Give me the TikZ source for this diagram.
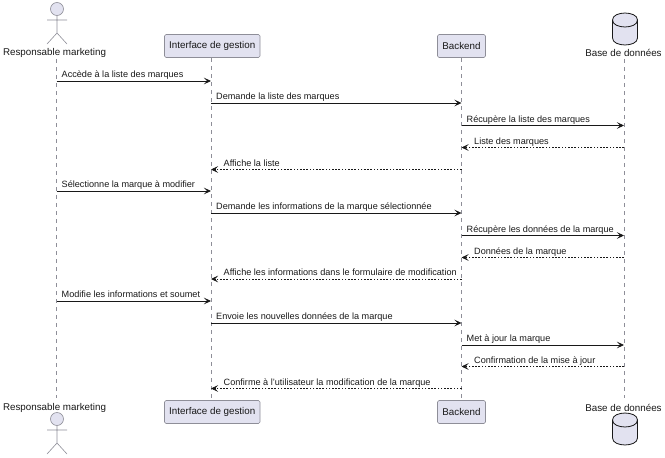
\documentclass[tikz,border=0pt]{standalone}
\usepackage{fontspec}
\setmainfont{Liberation Sans}
\usetikzlibrary{arrows.meta,calc}
\definecolor{pfill}{HTML}{E2E2F0}
\definecolor{pline}{HTML}{8E8E98}
\definecolor{ink}{HTML}{181818}
\tikzset{
  px/.style={x=1pt,y=-1pt},
  txt/.style={font=\fontsize{9.8}{12}\selectfont,text=ink,inner sep=0pt},
  plabel/.style={txt,anchor=center},
  pbox/.style={txt,draw=pline,fill=pfill,rounded corners=1.5pt,line width=.6pt,minimum height=23pt,anchor=center},
  lifeline/.style={draw=pline,line width=.6pt,dash pattern=on 4pt off 4pt},
  actorline/.style={draw=pline,line width=.6pt,fill=pfill},
  dbline/.style={draw=ink,line width=.8pt,fill=pfill},
  solidmsg/.style={draw=ink,line width=.7pt,-{Stealth[length=7pt,width=6.5pt,inset=3pt]}},
  dashmsg/.style={draw=ink,line width=.5pt,dash pattern=on 1.6pt off 1.6pt,-{Stealth[length=7pt,width=6.5pt,inset=3pt,sep=0pt]}},
  mlabel/.style={txt,font=\fontsize{9.12}{11}\selectfont,anchor=base west},
}
\newcommand{\stick}[2]{% x, head y
  \draw[actorline] (#1,#2) circle (6.5);
  \draw[actorline,fill=none] (#1,#2+6.5) -- (#1,#2+24) (#1-10,#2+11) -- (#1+10,#2+11)
     (#1-10,#2+35) -- (#1,#2+24) -- (#1+10,#2+35);
}
\newcommand{\cylinder}[2]{% x centre, top y
  \draw[dbline] (#1-12.5,#2+7) .. controls (#1-12.5,#2-2.3) and (#1+12.5,#2-2.3) .. (#1+12.5,#2+7)
    -- (#1+12.5,#2+25) .. controls (#1+12.5,#2+34.3) and (#1-12.5,#2+34.3) .. (#1-12.5,#2+25) -- cycle;
  \draw[dbline,fill=none] (#1-12.5,#2+7) .. controls (#1-12.5,#2+16.3) and (#1+12.5,#2+16.3) .. (#1+12.5,#2+7);
}
\newcommand{\msgR}[4]{% from to y label
  \draw[solidmsg] (#1 |- 0,#3) -- (#2 |- 0,#3);
  \path (#1 |- 0,#3) ++(5,-3.5) node[mlabel] {#4};
}
\newcommand{\msgL}[4]{% from to y label (return, dashed, to the left)
  \draw[dashmsg] (#1 |- 0,#3) -- (#2 |- 0,#3);
  \path (#2 |- 0,#3) ++(12.5,-3.5) node[mlabel] {#4};
}
\begin{document}
\begin{tikzpicture}[px]
\useasboundingbox (0,0) rectangle (665,458);
% top heads
\node[plabel] (rmT) at (54.5,53) {Responsable marketing};
\node[pbox,minimum width=95.5pt] (ifT) at (212.25,46) {Interface de gestion};
\node[pbox,minimum width=48pt] (beT) at (461.5,46) {Backend};
\node[plabel] (dbT) at (623.5,53) {Base de données};
% bottom heads
\node[plabel] (rmB) at (54.5,407.5) {Responsable marketing};
\node[pbox,minimum width=95.5pt] (ifB) at (212.25,412) {Interface de gestion};
\node[pbox,minimum width=48pt] (beB) at (461.5,412) {Backend};
\node[plabel] (dbB) at (623.5,407.5) {Base de données};
% life lines
\coordinate (a) at (56.5,0);
\coordinate (b) at (211,0);
\coordinate (c) at (461.5,0);
\coordinate (d) at (624,0);
\draw[lifeline] (a |- 0,59) -- (a |- 0,398);
\draw[lifeline] (b |- 0,58) -- (b |- 0,398);
\draw[lifeline] (c |- 0,58) -- (c |- 0,398);
\draw[lifeline] (d |- 0,59) -- (d |- 0,398);
% actors and databases
\stick{57}{9}
\stick{57}{419}
\cylinder{625}{13}
\cylinder{625}{413}
% messages
\msgR{a}{b}{81}{Accède à la liste des marques}
\msgR{b}{c}{103}{Demande la liste des marques}
\msgR{c}{d}{125.5}{Récupère la liste des marques}
\msgL{d}{c}{147.5}{Liste des marques}
\msgL{c}{b}{169.5}{Affiche la liste}
\msgR{a}{b}{191}{Sélectionne la marque à modifier}
\msgR{b}{c}{213}{Demande les informations de la marque sélectionnée}
\msgR{c}{d}{235.5}{Récupère les données de la marque}
\msgL{d}{c}{257.5}{Données de la marque}
\msgL{c}{b}{279}{Affiche les informations dans le formulaire de modification}
\msgR{a}{b}{301}{Modifie les informations et soumet}
\msgR{b}{c}{323}{Envoie les nouvelles données de la marque}
\msgR{c}{d}{345}{Met à jour la marque}
\msgL{d}{c}{366.5}{Confirmation de la mise à jour}
\msgL{c}{b}{388.5}{Confirme à l’utilisateur la modification de la marque}
\end{tikzpicture}
\end{document}
